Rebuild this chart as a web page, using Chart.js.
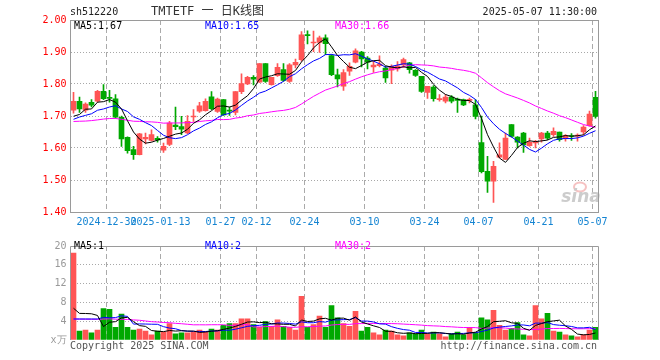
<!DOCTYPE html>
<html>
<head>
<meta charset="utf-8">
<script src="https://cdn.jsdelivr.net/npm/chart.js@4.4.1/dist/chart.umd.min.js"></script>
<style>
  html, body { margin: 0; padding: 0; background: #fff; }
  #wrap { position: relative; width: 660px; height: 360px; overflow: hidden; }
  #priceChart { position: absolute; left: 0; top: 0; }
  #volumeChart { position: absolute; left: 0; top: 236px; }
</style>
</head>
<body>
<div id="wrap">
  <canvas id="priceChart" width="660" height="236"></canvas>
  <canvas id="volumeChart" width="660" height="124"></canvas>
</div>
<script>
const symbolCode = "sh512220";
const chartTitle = "TMTETF 一 日K线图";
const timestamp = "2025-05-07 11:30:00";

const dates = [
  "2024-12-20","2024-12-23","2024-12-24","2024-12-25","2024-12-26","2024-12-27","2024-12-30","2024-12-31",
  "2025-01-02","2025-01-03","2025-01-06","2025-01-07","2025-01-08","2025-01-09","2025-01-10","2025-01-13",
  "2025-01-14","2025-01-15","2025-01-16","2025-01-17","2025-01-20","2025-01-21","2025-01-22","2025-01-23",
  "2025-01-24","2025-01-27","2025-02-05","2025-02-06","2025-02-07","2025-02-10","2025-02-11","2025-02-12",
  "2025-02-13","2025-02-14","2025-02-17","2025-02-18","2025-02-19","2025-02-20","2025-02-21","2025-02-24",
  "2025-02-25","2025-02-26","2025-02-27","2025-02-28","2025-03-03","2025-03-04","2025-03-05","2025-03-06",
  "2025-03-07","2025-03-10","2025-03-11","2025-03-12","2025-03-13","2025-03-14","2025-03-17","2025-03-18",
  "2025-03-19","2025-03-20","2025-03-21","2025-03-24","2025-03-25","2025-03-26","2025-03-27","2025-03-28",
  "2025-03-31","2025-04-01","2025-04-02","2025-04-03","2025-04-07","2025-04-08","2025-04-09","2025-04-10",
  "2025-04-11","2025-04-14","2025-04-15","2025-04-16","2025-04-17","2025-04-18","2025-04-21","2025-04-22",
  "2025-04-23","2025-04-24","2025-04-25","2025-04-28","2025-04-29","2025-04-30","2025-05-06","2025-05-07"
];

const opens = [
  1.718,1.746,1.718,1.743,1.746,1.777,1.758,1.754,
  1.696,1.633,1.595,1.579,1.628,1.624,1.630,1.593,
  1.611,1.672,1.667,1.647,1.697,1.715,1.717,1.760,
  1.714,1.751,1.717,1.711,1.776,1.800,1.821,1.806,
  1.864,1.798,1.826,1.845,1.808,1.860,1.876,1.954,
  1.928,1.930,1.944,1.889,1.829,1.793,1.840,1.868,
  1.900,1.881,1.853,1.857,1.850,1.843,1.847,1.860,
  1.866,1.843,1.824,1.774,1.790,1.751,1.746,1.759,
  1.753,1.751,1.749,1.735,1.617,1.527,1.496,1.571,
  1.564,1.673,1.634,1.647,1.607,1.616,1.628,1.647,
  1.642,1.650,1.629,1.638,1.637,1.650,1.670,1.758
];
const closes = [
  1.746,1.722,1.737,1.734,1.777,1.754,1.755,1.696,
  1.628,1.592,1.579,1.644,1.633,1.642,1.625,1.605,
  1.678,1.667,1.659,1.683,1.699,1.732,1.746,1.723,
  1.753,1.703,1.715,1.776,1.801,1.821,1.815,1.864,
  1.808,1.821,1.852,1.811,1.860,1.868,1.954,1.951,
  1.931,1.944,1.926,1.829,1.816,1.836,1.855,1.904,
  1.878,1.868,1.859,1.862,1.819,1.855,1.857,1.876,
  1.845,1.827,1.777,1.793,1.754,1.753,1.759,1.746,
  1.749,1.735,1.752,1.699,1.526,1.496,1.543,1.579,
  1.631,1.636,1.618,1.610,1.618,1.618,1.647,1.631,
  1.652,1.626,1.639,1.636,1.639,1.665,1.706,1.699
];
const highs = [
  1.774,1.759,1.741,1.751,1.780,1.798,1.780,1.767,
  1.700,1.635,1.605,1.646,1.647,1.657,1.636,1.615,
  1.683,1.728,1.699,1.701,1.720,1.743,1.754,1.776,
  1.756,1.751,1.728,1.776,1.832,1.824,1.826,1.864,
  1.864,1.821,1.864,1.864,1.864,1.878,1.964,1.966,
  1.965,1.950,1.954,1.892,1.847,1.845,1.866,1.910,
  1.902,1.886,1.871,1.888,1.855,1.860,1.870,1.881,
  1.868,1.845,1.824,1.793,1.795,1.767,1.767,1.764,
  1.756,1.753,1.756,1.751,1.700,1.574,1.558,1.616,
  1.647,1.673,1.636,1.649,1.631,1.624,1.649,1.652,
  1.663,1.650,1.642,1.645,1.644,1.670,1.715,1.777
];
const lows = [
  1.709,1.711,1.711,1.728,1.743,1.751,1.743,1.693,
  1.605,1.584,1.564,1.578,1.613,1.621,1.618,1.586,
  1.607,1.657,1.642,1.645,1.683,1.711,1.715,1.720,
  1.711,1.702,1.702,1.703,1.770,1.798,1.797,1.805,
  1.805,1.796,1.824,1.808,1.805,1.850,1.871,1.925,
  1.901,1.899,1.892,1.826,1.791,1.780,1.827,1.866,
  1.853,1.847,1.836,1.853,1.805,1.801,1.840,1.852,
  1.834,1.824,1.774,1.755,1.746,1.746,1.741,1.741,
  1.711,1.732,1.741,1.691,1.522,1.461,1.430,1.569,
  1.564,1.634,1.600,1.586,1.605,1.600,1.618,1.626,
  1.636,1.621,1.621,1.624,1.621,1.642,1.668,1.693
];
// volume in units of 万
const volumes = [
  18.5,1.9,2.1,1.5,2.1,6.7,6.5,2.7,
  5.5,2.7,2.1,2.3,1.9,1.1,1.9,1.7,
  3.5,1.3,1.5,1.5,1.7,2.1,1.7,2.3,
  2.1,3.1,3.5,3.5,4.5,4.5,3.3,2.7,
  3.9,2.9,4.3,2.9,2.7,2.1,9.3,2.7,
  3.3,5.1,2.7,7.3,4.7,3.5,2.9,6.1,
  1.9,2.7,1.5,1.1,2.1,1.9,1.1,0.9,
  1.5,1.3,2.1,1.3,1.7,1.3,0.7,1.3,
  1.7,1.1,2.7,1.5,4.7,4.3,6.3,3.1,
  2.1,2.5,3.7,1.1,0.9,7.3,4.5,5.7,
  1.9,1.7,1.1,0.9,0.7,1.1,2.1,2.7
];

// sessions before the visible window: not drawn, they only feed the moving averages
const earlierCloses = [
  1.70,1.72,1.69,1.71,1.68,1.70,1.69,1.71,1.68,1.67,
  1.66,1.67,1.65,1.67,1.68,1.66,1.67,1.65,1.66,1.67,
  1.65,1.685,1.684,1.667,1.714,1.694,1.655,1.73,1.671
];
const earlierVolumes = [
  2.5,2.5,2.0,2.5,5.0,4.5,5.5,6.0,4.0,5.0,
  4.5,6.5,5.5,4.0,5.0,4.5,5.5,4.0,5.0,5.2,
  1.9,2.1,1.5,2.1,3.3,7.4,2.2,1.8,3.9
];

const tickDates = ["2024-12-30","2025-01-13","2025-01-27","2025-02-12","2025-02-24","2025-03-10","2025-03-24","2025-04-07","2025-04-21","2025-05-07"];
const tickTexts = ["2024-12-30","2025-01-13","01-27","02-12","02-24","03-10","03-24","04-07","04-21","05-07"];
const priceTicks = [1.4, 1.5, 1.6, 1.7, 1.8, 1.9, 2.0];
const volumeTicks = [0, 4, 8, 12, 16, 20];

const RED = "#ff5555";
const GREEN = "#00a800";
const MONO = '"DejaVu Sans Mono", "Liberation Mono", monospace';

function movingAverage(earlier, values, n) {
  const all = earlier.concat(values);
  return values.map((_, i) => {
    const end = earlier.length + i + 1;
    const slice = all.slice(end - n, end);
    return slice.reduce((a, b) => a + b, 0) / n;
  });
}

const priceMa5 = movingAverage(earlierCloses, closes, 5);
const priceMa10 = movingAverage(earlierCloses, closes, 10);
const priceMa30 = movingAverage(earlierCloses, closes, 30);
const volMa5 = movingAverage(earlierVolumes, volumes, 5);
const volMa10 = movingAverage(earlierVolumes, volumes, 10);
const volMa30 = movingAverage(earlierVolumes, volumes, 30);

const candleColors = closes.map((c, i) => (c >= opens[i] ? RED : GREEN));
const tickIndex = new Map(tickDates.map((d, k) => [dates.indexOf(d), tickTexts[k]]));
const last = dates.length - 1;

function maLine(label, data, color) {
  return {
    type: "line", label, data, borderColor: color, borderWidth: 1,
    pointRadius: 0, tension: 0, fill: false, order: 0
  };
}

function xAxis(showLabels) {
  return {
    type: "category",
    offset: true,
    grid: {
      offset: true,
      drawTicks: false,
      color: (c) => (tickIndex.has(c.index) ? "#aaaaaa" : "rgba(0,0,0,0)"),
      lineWidth: 1
    },
    border: { display: false, dash: [5, 3] },
    ticks: {
      display: showLabels,
      autoSkip: false,
      maxRotation: 0,
      minRotation: 0,
      padding: 4,
      labelOffset: -3,
      color: "#1484d2",
      font: { family: MONO, size: 10 },
      callback: (value, index) => tickIndex.get(index) || ""
    },
    afterFit: (scale) => { scale.height = showLabels ? 24 : 20; }
  };
}

const priceDecor = {
  id: "priceDecor",
  beforeDatasetsDraw(chart) {
    const ctx = chart.ctx;
    ctx.save();
    ctx.strokeStyle = "rgba(235,120,120,0.45)";
    ctx.lineWidth = 2;
    ctx.beginPath();
    ctx.ellipse(580, 187, 6, 4.5, 0, 0, Math.PI * 2);
    ctx.stroke();
    ctx.font = 'italic bold 17px "DejaVu Sans", sans-serif';
    ctx.fillStyle = "#cccccc";
    ctx.textAlign = "center";
    ctx.textBaseline = "middle";
    ctx.fillText("sina", 581, 198);
    ctx.restore();
  },
  afterDraw(chart) {
    const { ctx, chartArea: a } = chart;
    ctx.save();
    ctx.strokeStyle = "#9a9a9a";
    ctx.lineWidth = 1;
    ctx.strokeRect(Math.floor(a.left) + 0.5, Math.floor(a.top) + 0.5,
      Math.round(a.right - a.left), Math.round(a.bottom - a.top));
    ctx.textBaseline = "middle";
    ctx.font = "10px " + MONO;
    ctx.fillStyle = "#222";
    ctx.textAlign = "left";
    ctx.fillText(symbolCode, 70, 12);
    ctx.textAlign = "right";
    ctx.fillText(timestamp, 597, 12);
    ctx.textAlign = "left";
    ctx.font = '12px ' + MONO + ', "Noto Sans CJK SC"';
    ctx.fillStyle = "#333";
    ctx.fillText(chartTitle, 151, 12);
    ctx.font = "10px " + MONO;
    ctx.fillStyle = "#000";
    ctx.fillText("MA5:" + priceMa5[last].toFixed(2), 74, 26);
    ctx.fillStyle = "#0000ff";
    ctx.fillText("MA10:" + priceMa10[last].toFixed(2), 205, 26);
    ctx.fillStyle = "#ff00ff";
    ctx.fillText("MA30:" + priceMa30[last].toFixed(2), 335, 26);
    ctx.restore();
  }
};

const volumeDecor = {
  id: "volumeDecor",
  afterDraw(chart) {
    const { ctx, chartArea: a } = chart;
    const l = Math.floor(a.left) + 0.5;
    const r = l + Math.round(a.right - a.left);
    const t = Math.floor(a.top) + 0.5;
    ctx.save();
    ctx.strokeStyle = "#9a9a9a";
    ctx.lineWidth = 1;
    ctx.beginPath();
    ctx.moveTo(l, Math.round(a.bottom));
    ctx.lineTo(l, t);
    ctx.lineTo(r, t);
    ctx.lineTo(r, Math.round(a.bottom));
    ctx.stroke();
    ctx.textBaseline = "middle";
    ctx.font = "10px " + MONO;
    ctx.textAlign = "left";
    ctx.fillStyle = "#000";
    ctx.fillText("MA5:" + Math.floor(volMa5[last]), 74, 10);
    ctx.fillStyle = "#0000ff";
    ctx.fillText("MA10:" + Math.floor(volMa10[last]), 205, 10);
    ctx.fillStyle = "#ff00ff";
    ctx.fillText("MA30:" + Math.floor(volMa30[last]), 335, 10);
    ctx.fillStyle = "#555";
    ctx.fillText("Copyright 2025 SINA.COM", 70, 110);
    ctx.textAlign = "right";
    ctx.fillText("http://finance.sina.com.cn", 597, 110);
    ctx.restore();
  }
};

new Chart(document.getElementById("priceChart"), {
  type: "bar",
  data: {
    labels: dates,
    datasets: [
      maLine("MA5", priceMa5, "#000000"),
      maLine("MA10", priceMa10, "#0000ff"),
      maLine("MA30", priceMa30, "#ff00ff"),
      {
        label: "body", data: opens.map((o, i) => [o, closes[i]]),
        backgroundColor: candleColors, borderWidth: 0, barThickness: 5,
        minBarLength: 1, grouped: false, order: 1
      },
      {
        label: "wick", data: lows.map((l, i) => [l, highs[i]]),
        backgroundColor: candleColors, borderWidth: 0, barThickness: 1,
        grouped: false, order: 2
      }
    ]
  },
  options: {
    responsive: false,
    animation: false,
    devicePixelRatio: 1,
    layout: { padding: { left: 0, right: 61.5, top: 20, bottom: 0 } },
    plugins: { legend: { display: false }, tooltip: { enabled: false } },
    scales: {
      x: xAxis(true),
      y: {
        min: 1.4, max: 2.0,
        afterBuildTicks: (scale) => { scale.ticks = priceTicks.map((v) => ({ value: v })); },
        grid: {
          drawTicks: false,
          color: (c) => (c.tick && (c.tick.value === 1.4 || c.tick.value === 2.0) ? "rgba(0,0,0,0)" : "#a8a8a8")
        },
        border: { display: false, dash: [1, 2] },
        ticks: {
          padding: 4, color: "#ff0000",
          font: { family: MONO, size: 10 },
          callback: (v) => Number(v).toFixed(2)
        },
        afterFit: (scale) => { scale.width = 70.5; }
      }
    }
  },
  plugins: [priceDecor]
});

new Chart(document.getElementById("volumeChart"), {
  type: "bar",
  data: {
    labels: dates,
    datasets: [
      maLine("MA5", volMa5, "#000000"),
      maLine("MA10", volMa10, "#0000ff"),
      maLine("MA30", volMa30, "#ff00ff"),
      {
        label: "volume", data: volumes, backgroundColor: candleColors,
        borderWidth: 0, barThickness: 5, grouped: false, order: 1
      }
    ]
  },
  options: {
    responsive: false,
    animation: false,
    devicePixelRatio: 1,
    layout: { padding: { left: 0, right: 61.5, top: 4, bottom: 0 } },
    plugins: { legend: { display: false }, tooltip: { enabled: false } },
    scales: {
      x: xAxis(false),
      y: {
        min: 0, max: 20,
        afterBuildTicks: (scale) => { scale.ticks = volumeTicks.map((v) => ({ value: v })); },
        grid: {
          drawTicks: false,
          color: (c) => (c.tick && (c.tick.value === 0 || c.tick.value === 20) ? "rgba(0,0,0,0)" : "#a8a8a8")
        },
        border: { display: false, dash: [1, 2] },
        ticks: {
          padding: 4, color: "#999999",
          font: { family: MONO, size: 10 },
          callback: (v) => (v === 0 ? "x万" : String(v))
        },
        afterFit: (scale) => { scale.width = 70.5; }
      }
    }
  },
  plugins: [volumeDecor]
});
</script>
</body>
</html>
